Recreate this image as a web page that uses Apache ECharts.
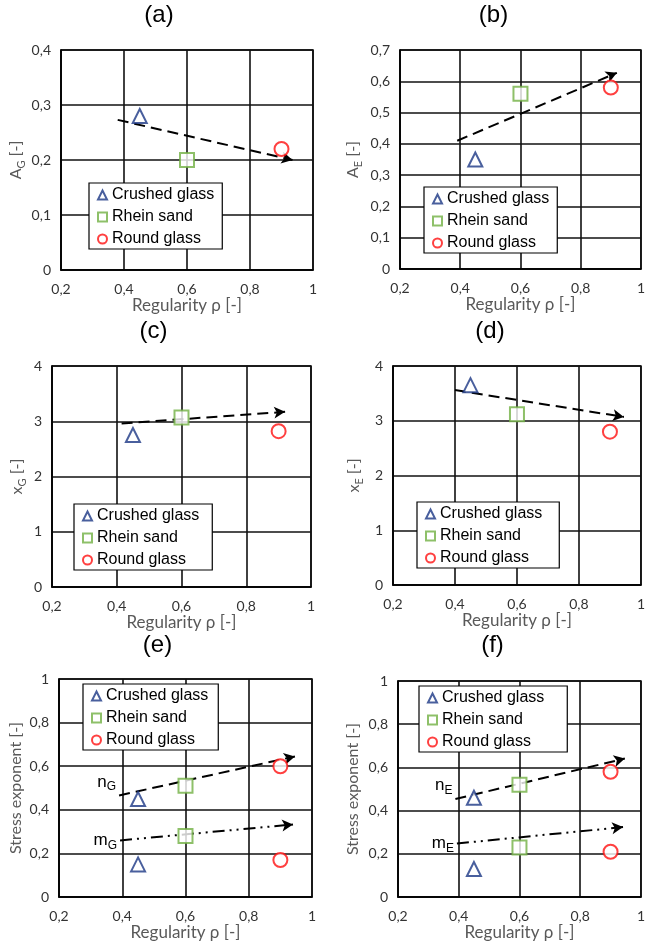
<!DOCTYPE html>
<html lang="en">
<head>
  <meta charset="UTF-8">
  <title>Regularity</title>
  <style>
    body { margin: 0; padding: 0; background: #fff; }
    #main { width: 648px; height: 942px; }
  </style>
</head>
<body>
  <div id="main"></div>
  <script src="https://cdn.jsdelivr.net/npm/echarts@6/dist/echarts.min.js"></script>
  <script>
  // values
  var materials = ['Crushed glass', 'Rhein sand', 'Round glass']
  var regularity = [0.45, 0.6, 0.9]

  var aG = [0.28, 0.2, 0.22]
  var aE = [0.35, 0.56, 0.58]
  var xG = [2.75, 3.07, 2.82]
  var xE = [3.65, 3.12, 2.8]
  var nG = [0.45, 0.51, 0.6]
  var mG = [0.15, 0.28, 0.17]
  var nE = [0.46, 0.52, 0.58]
  var mE = [0.13, 0.23, 0.21]

  // trend arrows [start, end]
  var trendAG = [[0.38, 0.273], [0.935, 0.2]]
  var trendAE = [[0.39, 0.41], [0.92, 0.627]]
  var trendXG = [[0.415, 2.96], [0.92, 3.17]]
  var trendXE = [[0.4, 3.56], [0.945, 3.07]]
  var trendNG = [[0.39, 0.466], [0.946, 0.645]]
  var trendMG = [[0.393, 0.26], [0.94, 0.333]]
  var trendNE = [[0.389, 0.454], [0.947, 0.641]]
  var trendME = [[0.394, 0.248], [0.941, 0.324]]

  var xTicks = { min: 0.2, max: 1, interval: 0.2 }

  var colors = ['#1b3784', '#72b043', '#ff1010']
  var symbols = ['emptyTriangle', 'emptyRect', 'emptyCircle']
  var legendIcons = ['triangle', 'rect', 'circle']

  var panels = [
    { label: '(a)', yName: '{b|A}{s|G}{b| [-]}', yMax: 0.4, yInt: 0.1,
      values: [aG], trends: [{ pts: trendAG }],
      grid: [61, 50, 252, 220], legend: [89, 183, 8], yGap: 34, titleY: 3 },
    { label: '(b)', yName: '{b|A}{s|E}{b| [-]}', yMax: 0.7, yInt: 0.1,
      values: [aE], trends: [{ pts: trendAE }],
      grid: [400, 50, 243, 219], legend: [424, 187, 8], yGap: 36, titleY: 3 },
    { label: '(c)', yName: '{b|x}{s|G}{b| [-]}', yMax: 4, yInt: 1,
      values: [xG], trends: [{ pts: trendXG }],
      grid: [52, 366, 259, 221], legend: [74, 504, 13], yGap: 24, titleY: 319 },
    { label: '(d)', yName: '{b|x}{s|E}{b| [-]}', yMax: 4, yInt: 1,
      values: [xE], trends: [{ pts: trendXE }],
      grid: [393, 366, 250, 219], legend: [417, 502, 17], yGap: 28, titleY: 319 },
    { label: '(e)', yName: '{b|Stress exponent [-]}', yMax: 1, yInt: 0.2,
      values: [nG, mG], trends: [{ pts: trendNG, text: '{t|n}{u|G}', up: true }, { pts: trendMG, text: '{t|m}{u|G}', dot: true }],
      grid: [59, 679, 253, 219], legend: [83, 684, 10], yGap: 32, titleY: 633 },
    { label: '(f)', yName: '{b|Stress exponent [-]}', yMax: 1, yInt: 0.2,
      values: [nE, mE], trends: [{ pts: trendNE, text: '{t|n}{u|E}', up: true }, { pts: trendME, text: '{t|m}{u|E}', dot: true }],
      grid: [398, 681, 245, 218], legend: [419, 686, 23], yGap: 34, titleY: 633 }
  ]

  function comma(v) {
    return String(+v.toFixed(2)).replace('.', ',')
  }

  var nameRich = {
    b: { fontSize: 16, fontFamily: 'Lato', color: '#595959', lineHeight: 22, verticalAlign: 'middle' },
    s: { fontSize: 11, fontFamily: 'Lato', color: '#595959', lineHeight: 11, verticalAlign: 'bottom' }
  }
  var trendRich = {
    t: { fontSize: 17, fontFamily: 'Liberation Sans', color: '#000', lineHeight: 22 },
    u: { fontSize: 12, fontFamily: 'Liberation Sans', color: '#000', lineHeight: 12, verticalAlign: 'bottom' }
  }

  var grids = [], xAxes = [], yAxes = [], series = [], legends = [], graphics = []

  panels.forEach(function (p, i) {
    grids.push({
      left: p.grid[0], top: p.grid[1], width: p.grid[2], height: p.grid[3],
      show: true, borderColor: '#000', borderWidth: 1.5, backgroundColor: '#fff'
    })
    xAxes.push({
      type: 'value', gridIndex: i, min: xTicks.min, max: xTicks.max, interval: xTicks.interval,
      name: 'Regularity ρ [-]', nameLocation: 'middle', nameGap: 25,
      nameTextStyle: { fontSize: 17, fontFamily: 'Lato', color: '#595959' },
      axisLine: { show: true, lineStyle: { color: '#000', width: 1.5 } },
      axisTick: { show: false },
      axisLabel: { formatter: comma, fontSize: 14, fontFamily: 'Lato', color: '#333', margin: 12 },
      splitLine: { show: true, lineStyle: { color: '#111', width: 1.6 } }
    })
    yAxes.push({
      type: 'value', gridIndex: i, min: 0, max: p.yMax, interval: p.yInt,
      name: p.yName, nameLocation: 'middle', nameGap: p.yGap,
      nameTextStyle: { rich: nameRich },
      axisLine: { show: true, lineStyle: { color: '#000', width: 1.5 } },
      axisTick: { show: false },
      axisLabel: { formatter: comma, fontSize: 14, fontFamily: 'Lato', color: '#333', margin: 10 },
      splitLine: { show: true, lineStyle: { color: '#111', width: 1.6 } }
    })

    materials.forEach(function (m, k) {
      series.push({
        name: m, type: 'scatter', xAxisIndex: i, yAxisIndex: i,
        symbol: symbols[k], symbolSize: 14, z: 5,
        itemStyle: { color: colors[k], borderColor: colors[k], borderWidth: 2.2 },
        data: p.values.map(function (arr) { return [regularity[k], arr[k]] })
      })
    })

    p.trends.forEach(function (t) {
      var label = { show: false }
      if (t.text) {
        label = { show: true, position: 'start', formatter: t.text, rich: trendRich, distance: 3,
          padding: t.up ? [0, 0, 28, 0] : 0 }
      }
      series.push({
        type: 'line', xAxisIndex: i, yAxisIndex: i, silent: true,
        data: t.pts, symbol: 'none', lineStyle: { opacity: 0 }, z: 4,
        markLine: {
          silent: true, animation: false,
          symbol: ['none', 'arrow'], symbolSize: [9, 11],
          lineStyle: { color: '#000', width: 2, type: t.dot ? [12, 5, 2, 5, 2, 5] : [11, 6] },
          label: label,
          data: [[{ coord: t.pts[0] }, { coord: t.pts[1] }]]
        }
      })
    })

    legends.push({
      left: p.legend[0], top: p.legend[1], orient: 'vertical',
      padding: [3, p.legend[2], 1, 8], itemGap: 4, itemWidth: 9, itemHeight: 9,
      backgroundColor: '#fff', borderColor: '#000', borderWidth: 1.2, borderRadius: 0,
      selectedMode: false,
      textStyle: { fontSize: 16, fontFamily: 'Liberation Sans', color: '#000', lineHeight: 18 },
      data: materials.map(function (m, k) {
        return { name: m, icon: legendIcons[k], itemStyle: { color: '#fff', borderColor: colors[k], borderWidth: 2 } }
      })
    })

    graphics.push({
      type: 'text', x: p.grid[0] + p.grid[2] / 2 - 28, y: p.titleY,
      style: { text: p.label, font: '24px "Liberation Sans"', fill: '#000', textAlign: 'center', textVerticalAlign: 'top' }
    })
  })

  var chart = echarts.init(document.getElementById('main'))
  chart.setOption({
    animation: false,
    grid: grids,
    xAxis: xAxes,
    yAxis: yAxes,
    legend: legends,
    graphic: graphics,
    series: series
  })
  </script>
</body>
</html>
